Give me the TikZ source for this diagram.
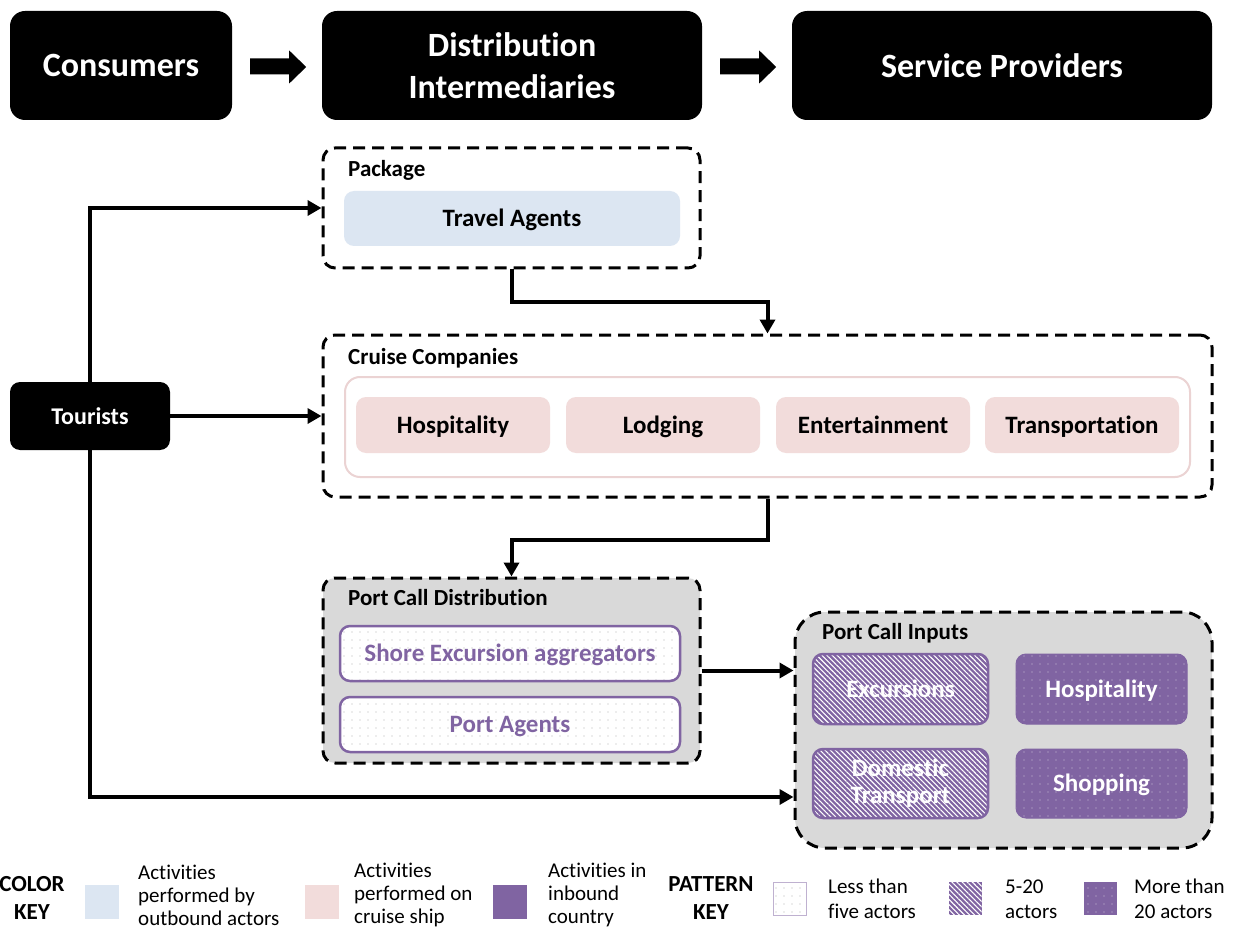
\documentclass[tikz,border=0pt]{standalone}
\usepackage{fontspec}
\setmainfont{Carlito}[Ligatures=NoCommon]
\usepackage{tikz}
\usetikzlibrary{arrows.meta,patterns.meta}

\definecolor{agentblue}{HTML}{DCE6F2}
\definecolor{shippink}{HTML}{F2DCDB}
\definecolor{shipline}{HTML}{EBD3D3}
\definecolor{portpurple}{HTML}{8064A2}
\definecolor{groupgray}{HTML}{D9D9D9}
\definecolor{dotgray}{HTML}{B4B4B4}

\tikzset{
  headbox/.style={fill=black, text=white, rounded corners=15pt, inner sep=0pt, align=center, font=\fontsize{34}{42}\selectfont\bfseries},
  groupbox/.style={draw=black, line width=3pt, dash pattern=on 12pt off 7pt, rounded corners=12pt, inner sep=0pt},
  grouplabel/.style={anchor=west, inner sep=0pt, font=\fontsize{23}{26}\selectfont\bfseries},
  itembox/.style={rounded corners=10pt, inner sep=0pt, align=center, font=\fontsize{25}{27}\selectfont\bfseries, text height=16pt, text depth=0pt},
  fewbox/.style={itembox, draw=portpurple, line width=2.5pt, preaction={fill=white}, pattern={Dots[radius=0.6pt,distance=8pt]}, pattern color=dotgray, text=portpurple},
  midbox/.style={itembox, draw=portpurple, line width=2.5pt, preaction={fill=portpurple}, pattern={Lines[angle=-45,distance=3.6pt,line width=1.1pt]}, pattern color=white, text=white},
  manybox/.style={itembox, draw=portpurple, line width=1pt, preaction={fill=portpurple}, pattern={Dots[radius=0.7pt,distance=8pt]}, pattern color=white!60!portpurple, text=white},
  flow/.style={line width=4pt, -{Triangle[length=14pt,width=15pt]}},
  keytitle/.style={inner sep=0pt, align=center, font=\fontsize{23}{28}\selectfont\bfseries},
  keytext/.style={anchor=west, inner sep=0pt, align=left, font=\fontsize{21}{23}\selectfont},
  keysquare/.style={inner sep=0pt, minimum size=34pt}
}

\begin{document}
\begin{tikzpicture}[x=1pt,y=-1pt]
    \useasboundingbox (0,0) rectangle (1240,928);

    % value chain heading
    \node[headbox, minimum width=222pt, minimum height=109pt] (cons) at (121,65.5) {Consumers};
    \node[headbox, minimum width=380pt, minimum height=109pt] (dist) at (512,65.5) {Distribution\\Intermediaries};
    \node[headbox, minimum width=420pt, minimum height=109pt] (serv) at (1002,65.5) {Service Providers};
    \fill ([xshift=18pt,yshift=7pt]cons.east) -- ++(39,0) -- ++(0,-8) -- ++(17,16.5) -- ++(-17,16.5) -- ++(0,-9) -- ++(-39,0) -- cycle;
    \fill ([xshift=18pt,yshift=7pt]dist.east) -- ++(39,0) -- ++(0,-8) -- ++(17,16.5) -- ++(-17,16.5) -- ++(0,-9) -- ++(-39,0) -- cycle;

    % package
    \node[groupbox, fill=white, minimum width=377pt, minimum height=120pt] (pkg) at (511.5,208) {};
    \node[grouplabel] (pkglbl) at (348,170) {Package};
    \node[itembox, fill=agentblue, minimum width=336pt, minimum height=55pt] (travel) at (512,218.5) {Travel Agents};

    % cruise companies
    \node[groupbox, fill=white, minimum width=889pt, minimum height=162pt] (cruise) at (767.5,416) {};
    \node[grouplabel] (cruiselbl) at (348,358) {Cruise Companies};
    \node[draw=shipline, line width=2pt, fill=white, rounded corners=15pt, minimum width=845pt, minimum height=100pt] (ship) at (767.5,427) {};
    \node[itembox, fill=shippink, minimum width=194pt, minimum height=56pt] (hosp) at (453,425) {Hospitality};
    \node[itembox, fill=shippink, minimum width=194pt, minimum height=56pt] (lodg) at (663,425) {Lodging};
    \node[itembox, fill=shippink, minimum width=194pt, minimum height=56pt] (ent) at (873,425) {Entertainment};
    \node[itembox, fill=shippink, minimum width=194pt, minimum height=56pt] (trans) at (1082,425) {Transportation};

    % port call distribution
    \node[groupbox, fill=groupgray, minimum width=377pt, minimum height=185pt] (pcd) at (511.5,670.5) {};
    \node[grouplabel] (pcdlbl) at (348,598) {Port Call Distribution};
    \node[fewbox, minimum width=340pt, minimum height=55pt] (shore) at (510,653.5) {Shore Excursion aggregators};
    \node[fewbox, minimum width=340pt, minimum height=55pt] (agents) at (510,724.5) {Port Agents};

    % port call inputs
    \node[groupbox, fill=groupgray, rounded corners=30pt, minimum width=417pt, minimum height=236pt] (pci) at (1003.5,730) {};
    \node[grouplabel] (pcilbl) at (822,633) {Port Call Inputs};
    \node[midbox, minimum width=175pt, minimum height=70pt] (exc) at (900.5,689) {Excursions};
    \node[manybox, minimum width=171pt, minimum height=70pt] (phosp) at (1101.5,689) {Hospitality};
    \node[midbox, text height={}, text depth={}, minimum width=175pt, minimum height=69pt] (dom) at (900.5,783.5) {Domestic\\Transport};
    \node[manybox, minimum width=171pt, minimum height=69pt] (shop) at (1101.5,783.5) {Shopping};

    % tourists
    \node[headbox, rounded corners=10pt, minimum width=160pt, minimum height=68pt, font=\fontsize{24}{28}\selectfont\bfseries] (tour) at (90,416) {Tourists};

    % flows
    \draw[flow] (pkg.south) -- ++(0,32) -| (cruise.north);
    \draw[flow] (cruise.south) -- ++(0,41) -| (pcd.north);
    \draw[flow] (pcd.east) -- (pcd.east -| pci.west);
    \draw[flow] (tour.east) -- (cruise.west);
    \draw[flow] (tour.north) |- (pkg.west);
    \draw[flow] (tour.south) |- ([yshift=-67pt]pci.west);

    % color key
    \node[keytitle] (colkey) at (32,898) {COLOR\\KEY};
    \node[keysquare, fill=agentblue] (keyblue) at (101.5,902) {};
    \node[keytext] (keybluetxt) at (138,895) {Activities\\performed by\\outbound actors};
    \node[keysquare, fill=shippink] (keypink) at (321.5,902) {};
    \node[keytext] (keypinktxt) at (354,895) {Activities\\performed on\\cruise ship};
    \node[keysquare, fill=portpurple] (keypurple) at (509.5,902) {};
    \node[keytext] (keypurpletxt) at (548,895) {Activities in\\inbound\\country};

    % pattern key
    \node[keytitle] (patkey) at (711,898) {PATTERN\\KEY};
    \node[keysquare, minimum size=33pt, draw=portpurple!50, line width=1pt, preaction={fill=white}, pattern={Dots[radius=0.6pt,distance=8pt]}, pattern color=dotgray] (keyfew) at (789.5,898.5) {};
    \node[keytext, font=\fontsize{21}{25}\selectfont] (keyfewtxt) at (828,899) {Less than\\five actors};
    \node[keysquare, minimum size=33pt, preaction={fill=portpurple}, pattern={Lines[angle=-45,distance=3.6pt,line width=1.1pt]}, pattern color=white] (keymid) at (965,898.5) {};
    \node[keytext, font=\fontsize{21}{25}\selectfont] (keymidtxt) at (1005,899) {5-20\\actors};
    \node[keysquare, minimum size=33pt, preaction={fill=portpurple}, pattern={Dots[radius=0.7pt,distance=8pt]}, pattern color=white!60!portpurple] (keymany) at (1100,898.5) {};
    \node[keytext, font=\fontsize{21}{25}\selectfont] (keymanytxt) at (1134,899) {More than\\20 actors};
\end{tikzpicture}
\end{document}
